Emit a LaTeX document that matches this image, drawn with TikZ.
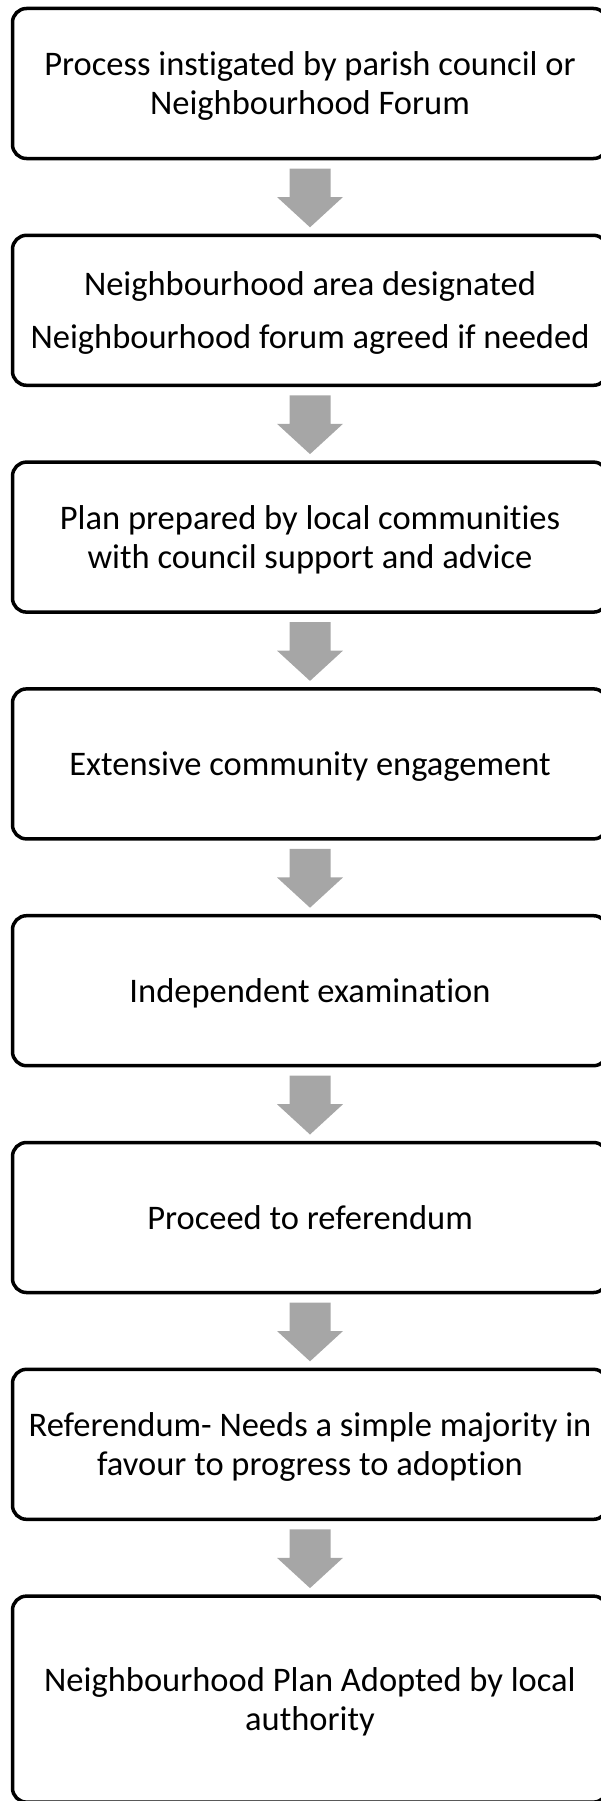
\documentclass[tikz,border=0pt]{standalone}
\usepackage{fontspec}
\setmainfont{Carlito}[Ligatures=NoCommon]
\usetikzlibrary{calc}
\definecolor{arrowgray}{RGB}{166,166,166}
\newcommand\linestrut{\rule[-7.7pt]{0pt}{39pt}}
\tikzset{
  stepbox/.style={draw=black, line width=3.5pt, rounded corners=14pt, fill=white,
    minimum width=595pt, minimum height=150pt, inner sep=0pt, outer sep=0pt,
    align=center, font=\fontsize{34.5}{39}\selectfont},
  flowarrow/.style={fill=arrowgray, draw=none}
}
\begin{document}
\begin{tikzpicture}[x=1pt,y=-1pt]
\useasboundingbox (0,0) rectangle (601,1801);
\clip (0,0) rectangle (601,1801);
\node[stepbox] (b1) at (310,83.5) {\linestrut Process instigated by parish council or\\\linestrut Neighbourhood Forum};
\node[stepbox] (b2) at (310,310.3) {\linestrut Neighbourhood area designated\\[14pt]\linestrut Neighbourhood forum agreed if needed};
\node[stepbox] (b3) at (310,537.1) {\linestrut Plan prepared by local communities\\\linestrut with council support and advice};
\node[stepbox] (b4) at (310,763.9) {\linestrut Extensive community engagement};
\node[stepbox] (b5) at (310,990.7) {\linestrut Independent examination};
\node[stepbox] (b6) at (310,1217.5) {\linestrut Proceed to referendum};
\node[stepbox] (b7) at (310,1444.3) {\linestrut Referendum- Needs a simple majority in\\\linestrut favour to progress to adoption};
\node[stepbox, minimum height=206pt] (b8) at (310,1699.1) {\linestrut Neighbourhood Plan Adopted by local\\\linestrut authority};
\foreach \a/\b in {b1/b2,b2/b3,b3/b4,b4/b5,b5/b6,b6/b7,b7/b8}{
  \fill[flowarrow] ($(\a.south)+(-20.5,10)$) -- ($(\a.south)+(20.5,10)$)
    -- ($(\a.south)+(20.5,38.5)$) -- ($(\a.south)+(33,38.5)$)
    -- ($(\b.north)+(0,-8)$)
    -- ($(\a.south)+(-33,38.5)$) -- ($(\a.south)+(-20.5,38.5)$) -- cycle;
}
\end{tikzpicture}
\end{document}
